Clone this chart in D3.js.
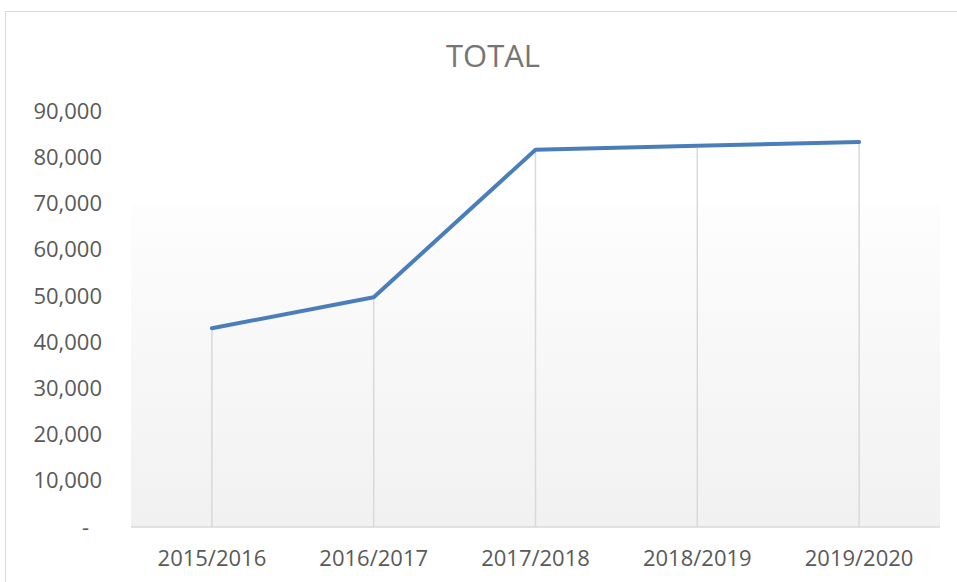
<!DOCTYPE html>
<html>
<head>
<meta charset="utf-8">
<script src="https://cdn.jsdelivr.net/npm/d3@7"></script>
<style>
  body { margin: 0; background: #fff; }
  svg { display: block; font-family: "Open Sans", sans-serif; }
</style>
</head>
<body>
<div id="chart"></div>
<script>
var seasons = ['2015/2016', '2016/2017', '2017/2018', '2018/2019', '2019/2020'];
var totals = [43000, 49700, 81600, 82500, 83300];
var yTicks = [0, 10000, 20000, 30000, 40000, 50000, 60000, 70000, 80000, 90000];

var width = 957, height = 582;
var margin = {top: 111, right: 17, bottom: 55, left: 131};

var svg = d3.select('#chart')
  .append('svg')
  .attr('width', width)
  .attr('height', height);

// chart border
svg.append('rect')
  .attr('x', 5.5).attr('y', 11.5)
  .attr('width', width).attr('height', height)
  .attr('fill', 'none')
  .attr('stroke', '#d9d9d9');

var x = d3.scaleBand()
  .domain(seasons)
  .range([margin.left, width - margin.right]);

var y = d3.scaleLinear()
  .domain([0, 90000])
  .range([height - margin.bottom, margin.top]);

// plot area gradient
var grad = svg.append('defs').append('linearGradient')
  .attr('id', 'bg').attr('x1', 0).attr('y1', 0).attr('x2', 0).attr('y2', 1);
grad.append('stop').attr('offset', 0).attr('stop-color', '#ffffff');
grad.append('stop').attr('offset', 0.22).attr('stop-color', '#ffffff');
grad.append('stop').attr('offset', 0.23).attr('stop-color', '#fdfdfd');
grad.append('stop').attr('offset', 1).attr('stop-color', '#f1f1f1');

svg.append('rect')
  .attr('x', margin.left)
  .attr('y', margin.top)
  .attr('width', width - margin.right - margin.left)
  .attr('height', y(0) - margin.top)
  .attr('fill', 'url(#bg)');

svg.append('text')
  .attr('x', 493).attr('y', 67)
  .attr('text-anchor', 'middle')
  .attr('fill', '#757575')
  .style('font-size', '31px')
  .text('TOTAL');

// y axis labels
svg.append('g')
  .selectAll('text')
  .data(yTicks)
  .enter()
  .append('text')
  .attr('x', function (d) { return d === 0 ? 89 : 102; })
  .attr('y', function (d) { return y(d); })
  .attr('dy', '0.35em')
  .attr('text-anchor', 'end')
  .attr('fill', '#595959')
  .style('font-size', '22px')
  .text(function (d) { return d === 0 ? '-' : d3.format(',')(d); });

// drop lines
svg.append('g')
  .selectAll('line')
  .data(seasons)
  .enter()
  .append('line')
  .attr('x1', function (d) { return x(d) + x.bandwidth() / 2; })
  .attr('x2', function (d) { return x(d) + x.bandwidth() / 2; })
  .attr('y1', function (d, i) { return y(totals[i]); })
  .attr('y2', y(0))
  .attr('stroke', '#d9d9d9')
  .attr('stroke-width', 1.5);

// baseline
svg.append('line')
  .attr('x1', margin.left).attr('x2', width - margin.right)
  .attr('y1', y(0)).attr('y2', y(0))
  .attr('stroke', '#d9d9d9')
  .attr('stroke-width', 1.5);

// x labels
svg.append('g')
  .selectAll('text')
  .data(seasons)
  .enter()
  .append('text')
  .attr('x', function (d) { return x(d) + x.bandwidth() / 2; })
  .attr('y', 566)
  .attr('text-anchor', 'middle')
  .attr('fill', '#595959')
  .style('font-size', '22px')
  .text(function (d) { return d; });

var line = d3.line()
  .x(function (d, i) { return x(seasons[i]) + x.bandwidth() / 2; })
  .y(function (d) { return y(d); });

svg.append('path')
  .datum(totals)
  .attr('d', line)
  .attr('fill', 'none')
  .attr('stroke', '#4a7ebb')
  .attr('stroke-width', 4)
  .attr('stroke-linecap', 'round')
  .attr('stroke-linejoin', 'round');
</script>
</body>
</html>
